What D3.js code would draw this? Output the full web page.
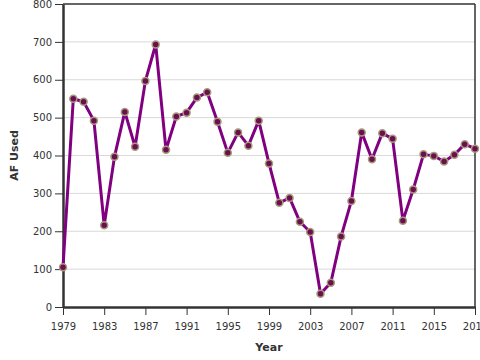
<!DOCTYPE html>
<html><head><meta charset="utf-8">
<script src="https://cdn.jsdelivr.net/npm/d3@7"></script>
<style>body{margin:0;background:#fff}svg{display:block;font-family:"DejaVu Sans",Verdana,sans-serif}</style>
</head><body><svg id="c" width="480" height="360"></svg>
<script>
const years = [1979,1980,1981,1982,1983,1984,1985,1986,1987,1988,1989,1990,1991,1992,1993,1994,1995,1996,1997,1998,1999,2000,2001,2002,2003,2004,2005,2006,2007,2008,2009,2010,2011,2012,2013,2014,2015,2016,2017,2018,2019];
const afUsed = [105,550,542,492,216,397,515,423,597,693,415,503,513,553,567,489,407,461,426,492,379,275,288,225,198,35,64,186,280,461,390,459,444,228,310,403,399,384,402,430,418];
const xTicks = [1979,1983,1987,1991,1995,1999,2003,2007,2011,2015,2019];
const yTicks = [0,100,200,300,400,500,600,700,800];

const svg = d3.select("#c");
const m = {l:63, r:475, t:4, b:307};
const x = d3.scaleLinear().domain([1979,2019]).range([m.l, m.r]);
const y = d3.scaleLinear().domain([0,800]).range([m.b, m.t]);

// grid
svg.append("g").selectAll("line").data(yTicks.filter(d=>d>0&&d<800)).join("line")
  .attr("x1", m.l).attr("x2", m.r).attr("y1", d=>y(d)).attr("y2", d=>y(d))
  .attr("stroke", "#d9d9d9").attr("stroke-width", 1);

// frame top/right
svg.append("line").attr("x1", m.l).attr("x2", m.r).attr("y1", m.t).attr("y2", m.t).attr("stroke", "#333").attr("stroke-width", 1.5);
svg.append("line").attr("x1", m.r).attr("x2", m.r).attr("y1", m.t).attr("y2", m.b).attr("stroke", "#333").attr("stroke-width", 1.5);

const xAxis = svg.append("g").attr("transform", `translate(0,${m.b})`)
  .call(d3.axisBottom(x).tickValues(xTicks).tickFormat(d3.format("d")).tickSize(8).tickSizeOuter(0));
const yAxis = svg.append("g").attr("transform", `translate(${m.l},0)`)
  .call(d3.axisLeft(y).tickValues(yTicks).tickSize(8).tickSizeOuter(0));
[xAxis, yAxis].forEach(a => {
  a.select(".domain").attr("stroke", "#333").attr("stroke-width", 2.5);
  a.selectAll(".tick line").attr("stroke", "#333").attr("stroke-width", 1);
  a.selectAll(".tick text").attr("fill", "#333").attr("font-size", 10).attr("font-family", "DejaVu Sans, sans-serif");
});
xAxis.selectAll(".tick text").attr("dy", "1.2em");

// line
const line = d3.line().x((d,i)=>x(years[i])).y(d=>y(d));
svg.append("path").datum(afUsed).attr("d", line).attr("fill", "none")
  .attr("stroke", "#800080").attr("stroke-width", 3).attr("stroke-linejoin", "round");

// points
svg.append("g").selectAll("circle").data(afUsed).join("circle")
  .attr("cx", (d,i)=>x(years[i])).attr("cy", d=>y(d)).attr("r", 3.5)
  .attr("fill", "#6a1050").attr("stroke", "#a89a7a").attr("stroke-width", 1.5);

// labels
svg.append("text").attr("x", (m.l+m.r)/2).attr("y", 351).attr("text-anchor", "middle")
  .attr("font-size", 11).attr("font-weight", "bold").attr("fill", "#333").text("Year");
svg.append("text").attr("transform", `translate(18,${(m.t+m.b)/2}) rotate(-90)`).attr("text-anchor", "middle")
  .attr("font-size", 11).attr("font-weight", "bold").attr("fill", "#333").text("AF Used");
</script></body></html>
